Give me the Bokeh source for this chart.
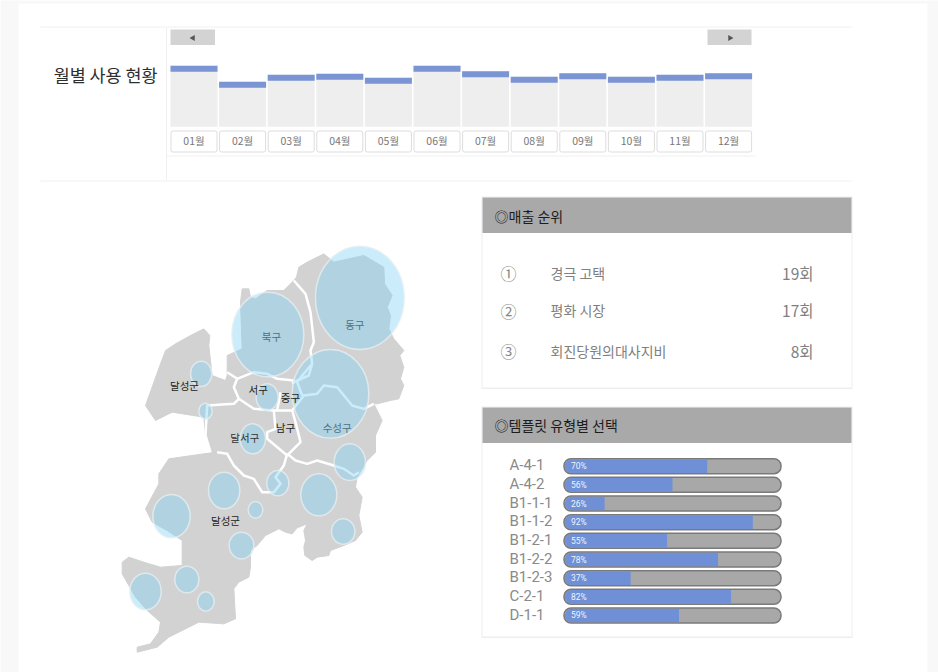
from bokeh.plotting import figure
from bokeh.models import Range1d
from bokeh.embed import file_html
from bokeh.resources import INLINE
from bokeh.core.properties import value

CJK = value("Noto Sans CJK KR")
LAT = value("Roboto")

# ---- monthly usage ----
months = ["01월","02월","03월","04월","05월","06월","07월","08월","09월","10월","11월","12월"]
month_values = [61,45,52,53,49,61,55.5,50,53.5,50,52,53.5]

# ---- ranking ----
rank_marks = ["①","②","③"]
rank_names = ["경극 고택","평화 시장","회진당원의대사지비"]
rank_counts = ["19회","17회","8회"]

# ---- template types ----
tpl_names = ["A-4-1","A-4-2","B1-1-1","B1-1-2","B1-2-1","B1-2-2","B1-2-3","C-2-1","D-1-1"]
tpl_labels = ["70%","56%","26%","92%","55%","78%","37%","82%","59%"]
tpl_fill = [66,50,18.7,87,47.5,71,30.7,77,53]

# ---- map (outline and districts, in map units) ----
map_x = [558,565,590,640,670,760,820,822,845,830,840,835,850,880,868,880,870,880,865,840,800,790,815,795,
         795,770,740,735,755,745,755,735,700,660,655,620,605,583,580,585,580,590,560,545,525,505,485,465,440,420,420,415,385,370,375,340,265,225,175,140,80,80,120,145,150,110,75,35,35,55,100,150,215,215,170,125,105,145,145,175,280,320,
         300,285,280,185,135,105,150,165,195,240,280,298,295,305,345,350,350,395,390,395,415,420,435,470,520,550]
map_y = [125,95,80,55,80,60,95,145,180,215,240,280,310,345,360,395,430,450,490,495,505,505,555,600,
         650,675,725,755,785,840,890,915,930,945,960,965,975,960,935,915,885,865,877,895,890,880,890,900,930,945,995,1025,1040,1060,1150,1165,1160,1180,1205,1235,1250,1235,1225,1190,1160,1125,1085,1015,980,965,980,995,990,915,885,860,820,745,715,670,655,650,
         650,600,545,530,555,510,385,345,325,300,280,300,330,420,435,420,360,340,200,160,160,185,190,165,165,135]

border_paths_x = [
    [550,585,600,610,600,605,595,560,545],
    [350,380,430,470,500,550],
    [380,370,385,370,290,285,300],
    [385,430,490,545],
    [490,495,470,470,530,570,555,545],
    [510,500],
    [545,580,620,640,680,725,760,790],
    [605,575,560,575],
    [530,555,590,620,660,700,730,745],
    [320,350,370,400,430,455,490,510,495,520,530],
]
border_paths_y = [
    [135,175,230,320,345,385,420,435,445],
    [410,430,410,415,430,435],
    [430,455,490,505,510,600,650],
    [490,520,525,525],
    [525,580,590,610,660,620,560,525],
    [470,525],
    [525,480,475,450,455,510,520,505],
    [385,420,440,480],
    [655,675,685,675,687,700,720,710],
    [650,655,690,720,730,770,770,745,725,690,655],
]

bubble_x = [748,472,660,470,272,285,427,718,502,341,625,435,183,393,698,229,105,286]
bubble_y = [187,297,475,485,415,527,610,680,743,765,778,823,842,930,888,1032,1068,1098]
bubble_w = [266,216,230,66,64,40,76,94,66,94,108,44,112,74,70,72,94,50]
bubble_h = [310,254,266,80,76,48,90,110,76,110,126,50,130,80,76,80,110,58]

map_labels = ["북구","동구","수성구","달성군","서구","중구","남구","달서구","달성군"]
label_x = [483,733,680,222,443,540,525,403,345]
label_y = [304,268,576,451,463,486,576,606,854]
label_col = ["#4d7083","#4d7083","#4d7083","#222222","#222222","#222222","#222222","#333333","#222222"]

W, H = 938, 672
p = figure(width=W, height=H, x_range=Range1d(0, W), y_range=Range1d(H, 0),
           toolbar_location=None, output_backend="svg",
           x_axis_location=None, y_axis_location=None, min_border=0)
p.grid.visible = False
p.outline_line_color = None
p.background_fill_color = "white"
p.border_fill_color = "white"

# scales of the sub-panels, each expressed as a linear mapping onto page pixels
def linear_range(v0, px0, v1, px1, lo, hi):
    k = (px1 - px0) / (v1 - v0)
    return Range1d(start=v0 + (lo - px0) / k, end=v0 + (hi - px0) / k)

xl, xh, yl, yh = 0, W, H, 0
p.extra_x_ranges = {
    "month": linear_range(0, 193.5, 1, 242.1, xl, xh),
    "pct": linear_range(0, 563.5, 100, 780.5, xl, xh),
    "map": linear_range(0, 110, 3, 111, xl, xh),
}
p.extra_y_ranges = {
    "use": linear_range(0, 126.3, 61, 65.3, yl, yh),
    "row": linear_range(0, 465.7, 1, 484.36, yl, yh),
    "map": linear_range(0, 235, 3, 236, yl, yh),
}

# page strips around the white sheet
p.quad(left=[0,0,927], right=[18,W,W], top=[0,0,0], bottom=[H,3,H], fill_color="#f8f8f8", line_color=None)

# ---------- frame lines of the top panel ----------
p.segment(x0=[40,40,166,166], y0=[26.5,180.5,27,155.5], x1=[851,851,166,755], y1=[26.5,180.5,180,155.5],
          line_color="#f0f0f0", line_width=1)
p.text(x=[157], y=[73.5], text=["월별 사용 현황"], text_font=CJK, text_font_size="17.4px",
       text_color="#2e2e2e", text_align="right", text_baseline="middle")

# scroll buttons
p.quad(left=[170,707], right=[214.5,751], top=[29,29], bottom=[44.5,44.5], fill_color="#d3d3d3", line_color=None)
p.scatter(x=[192.5,729.5], y=[37.5,37.5], marker="triangle", size=6, angle=[1.5708,-1.5708],
          fill_color="#555555", line_color=None)

# monthly bars
idx = list(range(12))
p.vbar(x=idx, width=47/48.6, bottom=0, top=month_values, x_range_name="month", y_range_name="use",
       fill_color="#eeeeee", line_color=None)
tops = [v - 6 for v in month_values]
p.vbar(x=idx, width=47/48.6, bottom=tops, top=month_values, x_range_name="month", y_range_name="use",
       fill_color="#7a94d4", line_color=None)
# month cells
p.rect(x=idx, y=[141]*12, width=46/48.6, height=21, x_range_name="month", height_units="screen",
       fill_color="white", line_color="#dddddd", line_width=1, border_radius=2)
p.text(x=idx, y=[140]*12, text=months, x_range_name="month", text_font=CJK, text_font_size="10.5px",
       text_color="#777777", text_align="center", text_baseline="middle")

# ---------- cards ----------
card_top = [197, 407]
card_bot = [387, 636]
head_bot = [232.5, 442.5]
p.quad(left=[481]*2, right=[852]*2, top=[196,406], bottom=[388.5,637.5], fill_color="#eeeeee", line_color=None)
p.quad(left=[482]*2, right=[851]*2, top=card_top, bottom=card_bot, fill_color="white", line_color=None)
p.quad(left=[482]*2, right=[851]*2, top=card_top, bottom=head_bot, fill_color="#a9a9a9", line_color=None)
p.text(x=[494,494], y=[215.5,424], text=["◎매출 순위","◎템플릿 유형별 선택"], text_font=CJK,
       text_font_size="14px", text_color="#1c1c1c", text_baseline="middle")

# ranking rows
rank_y = [272,310.5,350.5]
p.text(x=[508]*3, y=rank_y, text=rank_marks, text_font=CJK, text_font_size="16px", text_color="#888888",
       text_align="center", text_baseline="middle")
p.text(x=[550]*3, y=[272,309.5,350], text=rank_names, text_font=CJK, text_font_size="14px", text_color="#808080",
       text_baseline="middle")
p.text(x=[813]*3, y=[272,309.5,350], text=rank_counts, text_font=CJK, text_font_size="15.5px", text_color="#808080",
       text_align="right", text_baseline="middle")

# template rows
rows = list(range(9))
p.hbar(y=rows, left=0, right=100, height=15/18.66, x_range_name="pct", y_range_name="row",
       fill_color="#a8a8a8", line_color="#7a7a7a", line_width=1.5, border_radius=7)
p.hbar(y=rows, left=0.4, right=tpl_fill, height=13.5/18.66, x_range_name="pct", y_range_name="row",
       fill_color="#6f8fd6", line_color=None, border_radius=(7,0,0,7))
p.text(x=[509]*9, y=[r - 0.05 for r in rows], text=tpl_names, y_range_name="row", text_font=LAT, text_font_size="15px",
       text_color="#8a8a8a", text_baseline="middle")
p.text(x=[570.5]*9, y=rows, text=tpl_labels, y_range_name="row", text_font=LAT, text_font_size="8.5px",
       text_color="#f2f4fb", text_baseline="middle")

# ---------- map ----------
p.patch(map_x, map_y, x_range_name="map", y_range_name="map", fill_color="#d2d2d2", line_color="#d2d2d2", line_width=1)
p.multi_line(border_paths_x, border_paths_y, x_range_name="map", y_range_name="map", line_color="white",
             line_width=2.5, line_join="round")
p.ellipse(x=bubble_x, y=bubble_y, width=bubble_w, height=bubble_h, x_range_name="map", y_range_name="map",
          fill_color="#82d4f5", fill_alpha=0.42, line_color="#e6eef1", line_alpha=0.8, line_width=1.5)
p.text(x=label_x, y=label_y, text=map_labels, x_range_name="map", y_range_name="map", text_font=CJK,
       text_font_size="10.5px", text_color=label_col, text_align="center", text_baseline="middle")

open("out.html", "w").write(file_html(p, INLINE))
